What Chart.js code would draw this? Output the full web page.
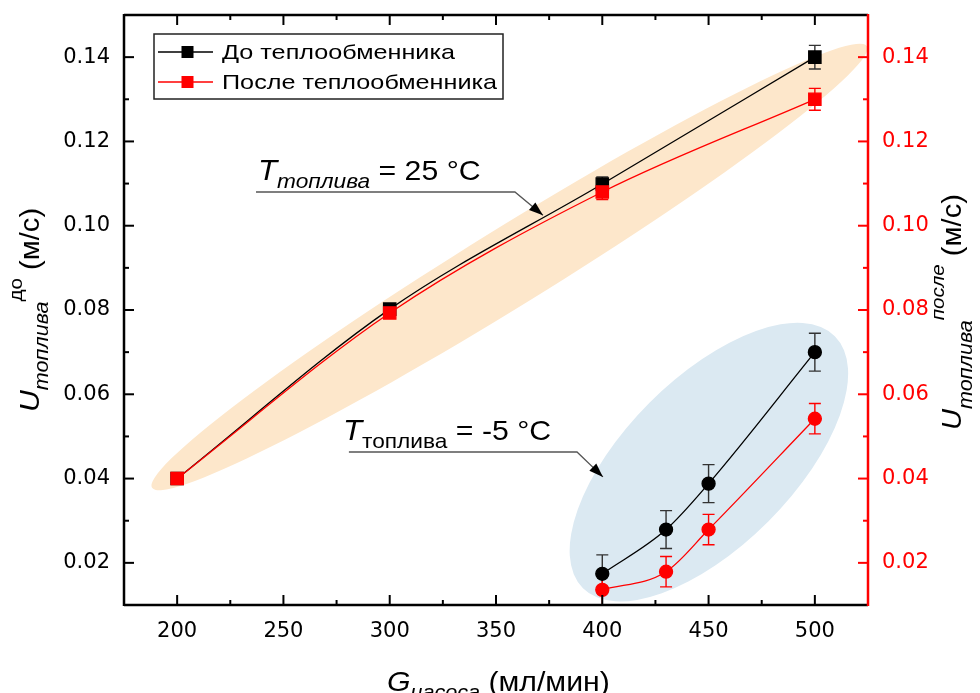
<!DOCTYPE html>
<html lang="ru">
<head>
<meta charset="UTF-8">
<title>Скорость топлива</title>
<script src="https://cdn.jsdelivr.net/npm/chart.js"></script>
<style>
  html, body { margin: 0; padding: 0; background: #fff; }
  #wrap { width: 980px; height: 693px; }
</style>
</head>
<body>
<div id="wrap"><canvas id="chart" width="980" height="693"></canvas></div>
<script>
// pump flow, ml/min
const flow25 = [200, 300, 400, 500];
const flowMinus5 = [400, 430, 450, 500];

// fuel velocity at 25 °C, m/s (before / after the heat exchanger)
const before25 = [0.0400, 0.0802, 0.1099, 0.1400];
const after25 = [0.0400, 0.0793, 0.1080, 0.1300];
const before25Err = [0.0004, 0.0005, 0.0017, 0.0028];
const after25Err = [0.0004, 0.0005, 0.0018, 0.0026];

// fuel velocity at -5 °C, m/s
const beforeMinus5 = [0.0174, 0.0279, 0.0388, 0.0700];
const afterMinus5 = [0.0136, 0.0179, 0.0279, 0.0542];
const beforeMinus5Err = [0.0045, 0.0045, 0.0045, 0.0045];
const afterMinus5Err = [0.0036, 0.0036, 0.0036, 0.0036];

const xTicks = [200, 250, 300, 350, 400, 450, 500];
const xMinorTicks = [225, 275, 325, 375, 425, 475];
const yTicks = [0.02, 0.04, 0.06, 0.08, 0.10, 0.12, 0.14];
const yMinorTicks = [0.03, 0.05, 0.07, 0.09, 0.11, 0.13];

const RED = '#ff0000';
const TXT = '"Liberation Sans", Arial, sans-serif';

const pts = (xs, ys) => xs.map((x, i) => ({ x: x, y: ys[i] }));

// shaded groups: major axis ends in data units, half width in px
const groups = [
  { from: [188.2, 0.0378], to: [524.5, 0.1426], half: 39, color: '#fde7cb' },
  { from: [390.9, 0.0140], to: [509.4, 0.0738], half: 84, color: '#dbe9f2' }
];

// rich text: runs of {t, size, italic, dy}
function drawRuns(ctx, x, y, runs, angle, stretch) {
  ctx.save();
  ctx.translate(x, y);
  ctx.rotate(angle);
  ctx.scale(stretch, 1);
  ctx.textBaseline = 'alphabetic';
  ctx.textAlign = 'left';
  let cx = 0;
  runs.forEach(r => {
    ctx.font = (r.italic ? 'italic ' : '') + r.size + 'px ' + TXT;
    ctx.fillStyle = r.color || '#000';
    ctx.fillText(r.t, cx, r.dy || 0);
    cx += ctx.measureText(r.t).width;
  });
  ctx.restore();
}

const groupShading = {
  id: 'groupShading',
  beforeDatasetsDraw(chart) {
    const { ctx, chartArea, scales } = chart;
    ctx.save();
    ctx.beginPath();
    ctx.rect(chartArea.left, chartArea.top, chartArea.right - chartArea.left, chartArea.bottom - chartArea.top);
    ctx.clip();
    groups.forEach(g => {
      const x1 = scales.x.getPixelForValue(g.from[0]), y1 = scales.y.getPixelForValue(g.from[1]);
      const x2 = scales.x.getPixelForValue(g.to[0]), y2 = scales.y.getPixelForValue(g.to[1]);
      ctx.beginPath();
      ctx.ellipse((x1 + x2) / 2, (y1 + y2) / 2, Math.hypot(x2 - x1, y2 - y1) / 2, g.half,
        Math.atan2(y2 - y1, x2 - x1), 0, Math.PI * 2);
      ctx.fillStyle = g.color;
      ctx.fill();
    });
    ctx.restore();
  }
};

const errorBars = {
  id: 'errorBars',
  beforeDatasetsDraw(chart) {
    const ctx = chart.ctx;
    chart.data.datasets.forEach((ds, i) => {
      if (!ds.errors) return;
      const meta = chart.getDatasetMeta(i);
      const ys = chart.scales[ds.yAxisID];
      ctx.save();
      ctx.strokeStyle = ds.errorColor;
      ctx.lineWidth = 1.4;
      meta.data.forEach((p, j) => {
        const v = ds.data[j].y, e = ds.errors[j];
        const top = ys.getPixelForValue(v + e), bot = ys.getPixelForValue(v - e);
        ctx.beginPath();
        ctx.moveTo(p.x, top); ctx.lineTo(p.x, bot);
        ctx.moveTo(p.x - 6, top); ctx.lineTo(p.x + 6, top);
        ctx.moveTo(p.x - 6, bot); ctx.lineTo(p.x + 6, bot);
        ctx.stroke();
      });
      ctx.restore();
    });
  }
};

// temperature labels with leader arrows
const notes = [
  { at: [238.0, 0.1108], line: [237.1, 358.9, 0.1080], tip: [372.1, 0.1025], subItalic: true, rest: ' = 25 \u00B0C' },
  { at: [278.0, 0.0491], line: [280.8, 388.1, 0.0463], tip: [400.3, 0.0404], subItalic: false, rest: ' = -5 \u00B0C' }
];

const noteLabels = {
  id: 'noteLabels',
  afterDatasetsDraw(chart) {
    const { ctx, scales } = chart;
    const X = v => scales.x.getPixelForValue(v), Y = v => scales.y.getPixelForValue(v);
    notes.forEach(n => {
      drawRuns(ctx, X(n.at[0]), Y(n.at[1]), [
        { t: 'T', size: 29, italic: true },
        { t: 'топлива', size: 21, italic: n.subItalic, dy: 8 },
        { t: n.rest, size: 28 }
      ], 0, 1.08);
      const lx1 = X(n.line[0]), lx2 = X(n.line[1]), ly = Y(n.line[2]);
      const tx = X(n.tip[0]), ty = Y(n.tip[1]);
      ctx.save();
      ctx.strokeStyle = '#555';
      ctx.lineWidth = 1.3;
      ctx.beginPath();
      ctx.moveTo(lx1, ly); ctx.lineTo(lx2, ly); ctx.lineTo(tx, ty);
      ctx.stroke();
      const ang = Math.atan2(ty - ly, tx - lx2);
      ctx.translate(tx, ty);
      ctx.rotate(ang);
      ctx.fillStyle = '#000';
      ctx.beginPath();
      ctx.moveTo(0, 0); ctx.lineTo(-14, -5); ctx.lineTo(-14, 5);
      ctx.closePath();
      ctx.fill();
      ctx.restore();
    });
  }
};

const frame = {
  id: 'frame',
  afterDraw(chart) {
    const { ctx, chartArea: a, scales } = chart;
    ctx.save();
    ctx.lineWidth = 2.5;
    ctx.lineCap = 'butt';
    const tick = (x1, y1, x2, y2) => { ctx.beginPath(); ctx.moveTo(x1, y1); ctx.lineTo(x2, y2); ctx.stroke(); };
    ctx.strokeStyle = '#000';
    tick(a.left, a.top, a.right, a.top);
    tick(a.left, a.bottom, a.right, a.bottom);
    tick(a.left, a.top - 1, a.left, a.bottom + 1);
    ctx.lineWidth = 2;
    xTicks.forEach(v => { const x = scales.x.getPixelForValue(v); tick(x, a.bottom, x, a.bottom - 10); tick(x, a.top, x, a.top + 10); });
    xMinorTicks.forEach(v => { const x = scales.x.getPixelForValue(v); tick(x, a.bottom, x, a.bottom - 5); tick(x, a.top, x, a.top + 5); });
    yTicks.forEach(v => { const y = scales.y.getPixelForValue(v); tick(a.left, y, a.left + 10, y); });
    yMinorTicks.forEach(v => { const y = scales.y.getPixelForValue(v); tick(a.left, y, a.left + 5, y); });
    ctx.strokeStyle = RED;
    yTicks.forEach(v => { const y = scales.y2.getPixelForValue(v); tick(a.right, y, a.right - 10, y); });
    yMinorTicks.forEach(v => { const y = scales.y2.getPixelForValue(v); tick(a.right, y, a.right - 5, y); });
    ctx.lineWidth = 2.5;
    tick(a.right, a.top - 1, a.right, a.bottom + 1);
    ctx.restore();
  }
};

const axisTitles = {
  id: 'axisTitles',
  afterDraw(chart) {
    const ctx = chart.ctx;
    drawRuns(ctx, 39, 412, [
      { t: 'U', size: 28, italic: true },
      { t: 'топлива', size: 20, italic: true, dy: 9 },
      { t: 'до', size: 19, dy: -17 },
      { t: ' (м/с)', size: 27 }
    ], -Math.PI / 2, 1.08);
    drawRuns(ctx, 961, 430, [
      { t: 'U', size: 27, italic: true },
      { t: 'топлива', size: 20, italic: true, dy: 11 },
      { t: 'после', size: 19, italic: true, dy: -17 },
      { t: ' (м/с)', size: 27 }
    ], -Math.PI / 2, 1.08);
    drawRuns(ctx, 387, 691, [
      { t: 'G', size: 28, italic: true },
      { t: 'насоса', size: 20, italic: true, dy: 8 },
      { t: ' (мл/мин)', size: 28 }
    ], 0, 1.08);
  }
};

const boxLegend = {
  id: 'boxLegend',
  afterDraw(chart) {
    const { ctx, chartArea: a } = chart;
    const left = a.left + 30, top = a.top + 19, w = 349, h = 65;
    ctx.save();
    ctx.fillStyle = '#fff';
    ctx.fillRect(left, top, w, h);
    ctx.strokeStyle = '#222';
    ctx.lineWidth = 1.5;
    ctx.strokeRect(left, top, w, h);
    chart.data.datasets.filter(d => d.showInLegend).forEach((d, i) => {
      const cy = top + 18 + i * 30;
      ctx.strokeStyle = d.borderColor;
      ctx.lineWidth = 1.3;
      ctx.beginPath();
      ctx.moveTo(left + 4, cy); ctx.lineTo(left + 59, cy);
      ctx.stroke();
      ctx.fillStyle = d.backgroundColor;
      ctx.fillRect(left + 27.5, cy - 6, 12, 12);
      ctx.save();
      ctx.translate(left + 68, cy);
      ctx.scale(1.2, 1);
      ctx.font = '21px ' + TXT;
      ctx.fillStyle = '#000';
      ctx.textBaseline = 'middle';
      ctx.fillText(d.label, 0, 1);
      ctx.restore();
    });
    ctx.restore();
  }
};

const tickFont = { family: '"DejaVu Sans", sans-serif', size: 21 };

// keep the plot box fixed: no extra room for overhanging tick labels
const noPadV = s => { s.paddingTop = 0; s.paddingBottom = 0; };

new Chart(document.getElementById('chart'), {
  type: 'line',
  data: {
    datasets: [
      {
        label: 'До теплообменника', showInLegend: true,
        data: pts(flow25, before25), errors: before25Err, errorColor: '#333',
        yAxisID: 'y', borderColor: '#000', backgroundColor: '#000',
        pointStyle: 'rect', pointRadius: 8.7, borderWidth: 1.3, order: 1
      },
      {
        label: 'После теплообменника', showInLegend: true,
        data: pts(flow25, after25), errors: after25Err, errorColor: RED,
        yAxisID: 'y2', borderColor: RED, backgroundColor: RED,
        pointStyle: 'rect', pointRadius: 8.7, borderWidth: 1.3, order: 0
      },
      {
        label: 'До теплообменника, -5 °C',
        data: pts(flowMinus5, beforeMinus5), errors: beforeMinus5Err, errorColor: '#333',
        yAxisID: 'y', borderColor: '#000', backgroundColor: '#000',
        pointStyle: 'circle', pointRadius: 6.5, borderWidth: 1.3, order: 1
      },
      {
        label: 'После теплообменника, -5 °C',
        data: pts(flowMinus5, afterMinus5), errors: afterMinus5Err, errorColor: RED,
        yAxisID: 'y2', borderColor: RED, backgroundColor: RED,
        pointStyle: 'circle', pointRadius: 6.5, borderWidth: 1.3, order: 0
      }
    ]
  },
  options: {
    responsive: false,
    animation: false,
    layout: { padding: { top: 15 } },
    elements: {
      line: { cubicInterpolationMode: 'monotone', fill: false },
      point: { borderWidth: 0, hoverRadius: 0 }
    },
    plugins: { legend: { display: false }, tooltip: { enabled: false } },
    scales: {
      x: {
        type: 'linear', min: 175, max: 525,
        grid: { display: false, drawTicks: false }, border: { display: false },
        afterBuildTicks: s => { s.ticks = xTicks.map(v => ({ value: v })); },
        afterFit: s => { s.height = 88; s.paddingLeft = 0; s.paddingRight = 0; },
        ticks: { padding: 14, font: tickFont, color: '#000', autoSkip: false, maxRotation: 0, callback: v => String(v) }
      },
      y: {
        position: 'left', min: 0.01, max: 0.15,
        grid: { display: false, drawTicks: false }, border: { display: false },
        afterBuildTicks: s => { s.ticks = yTicks.map(v => ({ value: v })); },
        afterFit: s => { s.width = 124; noPadV(s); },
        ticks: { padding: 14, font: tickFont, color: '#000', autoSkip: false, callback: v => v.toFixed(2) }
      },
      y2: {
        position: 'right', min: 0.01, max: 0.15,
        grid: { display: false, drawTicks: false }, border: { display: false },
        afterBuildTicks: s => { s.ticks = yTicks.map(v => ({ value: v })); },
        afterFit: s => { s.width = 112; noPadV(s); },
        ticks: { padding: 14, font: tickFont, color: RED, autoSkip: false, callback: v => v.toFixed(2) }
      }
    }
  },
  plugins: [groupShading, errorBars, noteLabels, frame, axisTitles, boxLegend]
});
</script>
</body>
</html>
